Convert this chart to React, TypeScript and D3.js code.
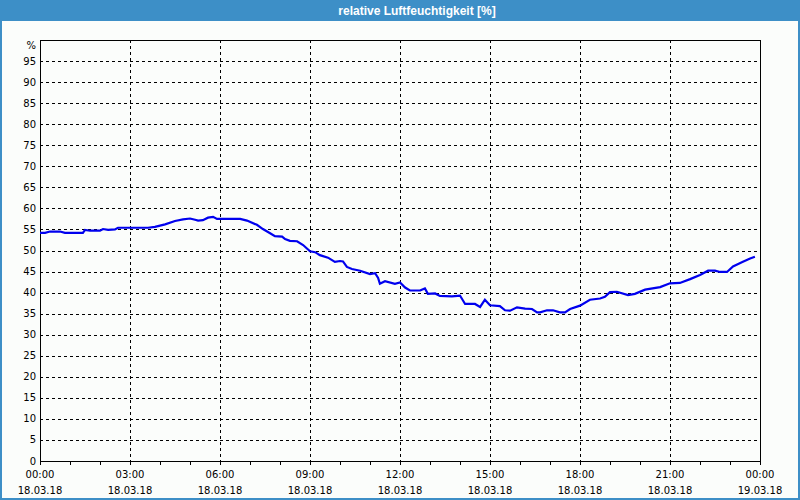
import React from "react";
import * as d3 from "d3";

const TITLE = "relative Luftfeuchtigkeit [%]";
const UNIT = "%";
// hours since 18.03.18 00:00
const hours = [0, 0.17, 0.33, 0.67, 0.83, 1.43, 1.5, 1.67, 2.0, 2.1, 2.27, 2.5, 2.6, 3.6, 3.83, 4.17, 4.5, 4.77, 5.0, 5.17, 5.27, 5.43, 5.6, 5.77, 5.9, 6.67, 6.9, 7.23, 7.43, 7.67, 7.83, 8.07, 8.17, 8.33, 8.57, 8.77, 9.0, 9.17, 9.33, 9.6, 9.83, 10.0, 10.1, 10.23, 10.4, 10.67, 11.0, 11.17, 11.27, 11.33, 11.5, 11.83, 12.0, 12.17, 12.33, 12.67, 12.83, 12.93, 13.17, 13.33, 13.73, 14.0, 14.17, 14.5, 14.67, 14.83, 15.0, 15.33, 15.5, 15.67, 15.9, 16.17, 16.4, 16.57, 16.67, 16.9, 17.1, 17.33, 17.5, 17.67, 18.0, 18.33, 18.67, 18.83, 19.0, 19.23, 19.6, 19.83, 20.17, 20.67, 21.0, 21.33, 21.67, 22.0, 22.27, 22.5, 22.67, 22.9, 23.1, 23.43, 23.67, 23.83];
const humidity = [54.2, 54.2, 54.5, 54.5, 54.2, 54.2, 54.9, 54.7, 54.7, 55.1, 54.9, 55.0, 55.4, 55.4, 55.6, 56.2, 57.0, 57.4, 57.6, 57.3, 57.1, 57.2, 57.8, 58.0, 57.5, 57.5, 57.1, 56.1, 55.1, 54.1, 53.4, 53.3, 52.7, 52.3, 52.2, 51.3, 49.8, 49.6, 48.9, 48.3, 47.3, 47.5, 47.4, 46.1, 45.6, 45.2, 44.4, 44.6, 43.5, 42.1, 42.7, 42.1, 42.4, 41.2, 40.5, 40.5, 41.0, 39.7, 39.8, 39.2, 39.1, 39.3, 37.3, 37.3, 36.6, 38.3, 37.0, 36.8, 35.8, 35.7, 36.5, 36.2, 36.1, 35.3, 35.3, 35.8, 35.8, 35.3, 35.3, 36.1, 36.9, 38.3, 38.6, 39.0, 40.1, 40.2, 39.4, 39.7, 40.7, 41.3, 42.2, 42.3, 43.2, 44.2, 45.2, 45.2, 44.9, 44.9, 46.2, 47.3, 48.1, 48.5];
const yTicks = [0, 5, 10, 15, 20, 25, 30, 35, 40, 45, 50, 55, 60, 65, 70, 75, 80, 85, 90, 95];
const xMajor = [0, 3, 6, 9, 12, 15, 18, 21, 24];
const xTimeLabels = ["00:00", "03:00", "06:00", "09:00", "12:00", "15:00", "18:00", "21:00", "00:00"];
const xDateLabels = ["18.03.18", "18.03.18", "18.03.18", "18.03.18", "18.03.18", "18.03.18", "18.03.18", "18.03.18", "19.03.18"];
const xMinor = d3.range(0, 25, 1);

const W = 800, H = 500;
const L = 40, R = 760, T = 40, B = 461;
const FONT = "DejaVu Sans";

export default function App() {
  const x = d3.scaleLinear().domain([0, 24]).range([L, R]);
  const y = d3.scaleLinear().domain([0, 100]).range([B, T]);
  const pts = hours.map((h, i) => [h, humidity[i]] as [number, number]);
  const line = d3.line<[number, number]>().x(d => x(d[0])).y(d => y(d[1]));
  return (
    <div>
      <style>{`body{margin:0;}`}</style>
      <svg width={W} height={H} style={{ display: "block" }} fontFamily={FONT}>
        <rect x={0} y={0} width={W} height={H} fill="#3d8fc7" />
        <rect x={2} y={21} width={W - 4} height={H - 23} fill="#fbfdfb" />
        <text x={417} y={15} fill="#ffffff" fontSize={12} fontWeight="bold" textAnchor="middle" fontFamily="Liberation Sans">{TITLE}</text>
        {/* grid */}
        {yTicks.filter(v => v > 0).map(v => (
          <line key={"gy" + v} x1={L} x2={R} y1={Math.round(y(v)) + 0.5} y2={Math.round(y(v)) + 0.5} stroke="#000" strokeDasharray="3,3" shapeRendering="crispEdges" />
        ))}
        {xMajor.filter(h => h > 0 && h < 24).map(h => (
          <line key={"gx" + h} x1={x(h) + 0.5} x2={x(h) + 0.5} y1={T} y2={B} stroke="#000" strokeDasharray="3,3" shapeRendering="crispEdges" />
        ))}
        {/* minor ticks */}
        {xMinor.map(h => (
          <line key={"mt" + h} x1={x(h) + 0.5} x2={x(h) + 0.5} y1={B} y2={B + 4} stroke="#000" shapeRendering="crispEdges" />
        ))}
        {/* frame */}
        <rect x={L + 0.5} y={T + 0.5} width={R - L} height={B - T} fill="none" stroke="#000" shapeRendering="crispEdges" />
        {/* y labels */}
        {yTicks.map(v => (
          <text key={"yl" + v} x={36} y={y(v)} dy="0.35em" fontSize={10} textAnchor="end" fill="#000">{v}</text>
        ))}
        <text x={36} y={45} dy="0.35em" fontSize={10} textAnchor="end" fill="#000">{UNIT}</text>
        {/* x labels */}
        {xMajor.map((h, i) => (
          <g key={"xl" + h}>
            <text x={x(h)} y={474} dy="0.35em" fontSize={10} textAnchor="middle" fill="#000">{xTimeLabels[i]}</text>
            <text x={x(h)} y={490} dy="0.35em" fontSize={10} textAnchor="middle" fill="#000">{xDateLabels[i]}</text>
          </g>
        ))}
        <path d={line(pts) || ""} fill="none" stroke="#0000ee" strokeWidth={2.2} />
      </svg>
    </div>
  );
}
